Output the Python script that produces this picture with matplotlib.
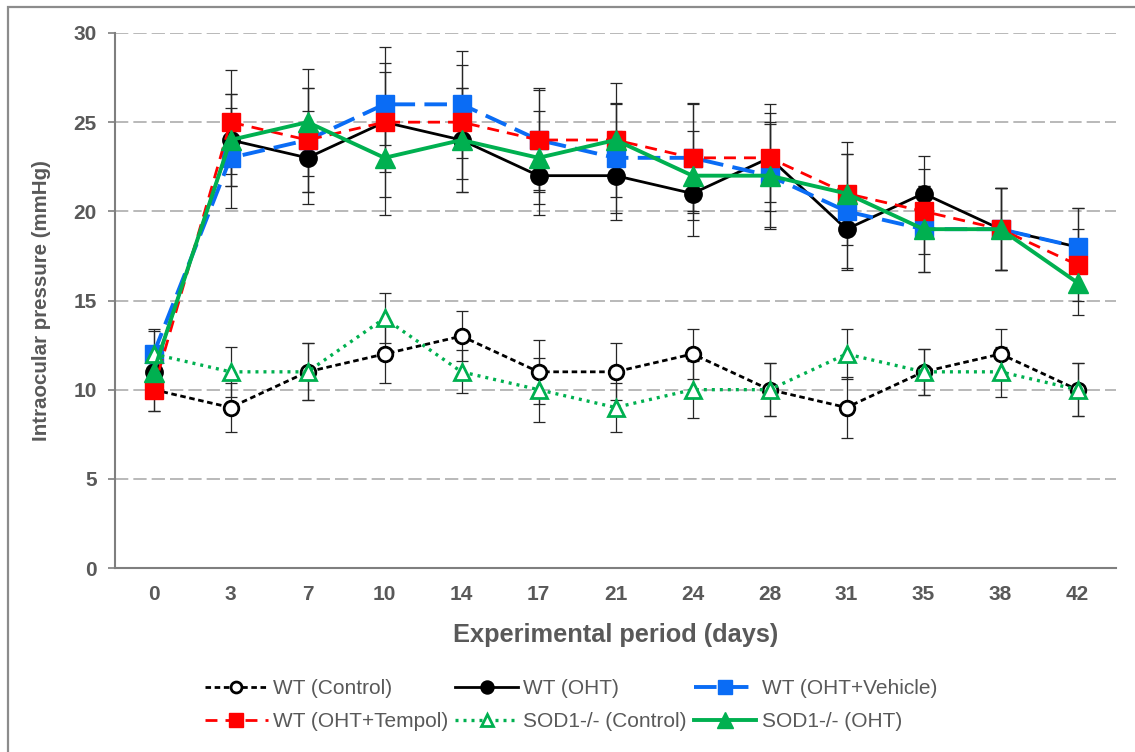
import matplotlib
matplotlib.use("Agg")
import matplotlib.pyplot as plt
from matplotlib.patches import Rectangle
import numpy as np

plt.rcParams['font.family'] = ['Liberation Sans', 'DejaVu Sans']

days = ["0", "3", "7", "10", "14", "17", "21", "24", "28", "31", "35", "38", "42"]

wt_control = [10, 9, 11, 12, 13, 11, 11, 12, 10, 9, 11, 12, 10]
wt_control_err = [1.2, 1.4, 1.6, 1.6, 1.4, 1.8, 1.6, 1.4, 1.5, 1.7, 1.3, 1.4, 1.5]

wt_oht = [11, 24, 23, 25, 24, 22, 22, 21, 23, 19, 21, 19, 18]
wt_oht_err = [1.4, 2.6, 2.6, 4.2, 2.9, 2.2, 2.5, 2.4, 3.0, 2.3, 2.1, 2.3, 2.2]

wt_vehicle = [12, 23, 24, 26, 26, 24, 23, 23, 22, 20, 19, 19, 18]
wt_vehicle_err = [1.3, 2.8, 2.9, 2.3, 3.0, 2.8, 3.1, 3.1, 3.0, 3.2, 2.4, 2.3, 2.2]

wt_tempol = [10, 25, 24, 25, 25, 24, 24, 23, 23, 21, 20, 19, 17]
wt_tempol_err = [1.2, 2.9, 2.9, 2.8, 3.2, 2.9, 3.2, 3.0, 2.5, 2.9, 2.4, 2.3, 2.0]

sod1_control = [12, 11, 11, 14, 11, 10, 9, 10, 10, 12, 11, 11, 10]
sod1_control_err = [1.4, 1.4, 1.6, 1.4, 1.2, 1.8, 1.4, 1.6, 1.5, 1.4, 1.3, 1.4, 1.5]

sod1_oht = [11, 24, 25, 23, 24, 23, 24, 22, 22, 21, 19, 19, 16]
sod1_oht_err = [1.3, 2.6, 3.0, 3.2, 2.9, 2.6, 2.0, 2.5, 2.9, 2.2, 2.4, 2.3, 1.8]

labels = ["WT (Control)", "WT (OHT)", "WT (OHT+Vehicle)",
          "WT (OHT+Tempol)", "SOD1-/- (Control)", "SOD1-/- (OHT)"]

series = [
    (wt_control, wt_control_err, dict(color='black', lw=2.0, ls=(0, (2.0, 1.3)),
                                      marker='o', ms=10.5, mfc='white', mec='black', mew=2.0)),
    (wt_oht, wt_oht_err, dict(color='black', lw=2.0, ls='-',
                              marker='o', ms=12.5, mfc='black', mec='black', mew=1)),
    (wt_vehicle, wt_vehicle_err, dict(color='#0A6CF5', lw=2.8, ls=(0, (5.8, 2.4)),
                                      marker='s', ms=12.5, mfc='#0A6CF5', mec='#0A6CF5', mew=1)),
    (wt_tempol, wt_tempol_err, dict(color='#FF0000', lw=2.0, ls=(0, (4.3, 2.9)),
                                    marker='s', ms=12.5, mfc='#FF0000', mec='#FF0000', mew=1)),
    (sod1_control, sod1_control_err, dict(color='#00B050', lw=2.4, ls=(0, (0.9, 1.5)),
                                          marker='^', ms=12, mfc='white', mec='#00B050', mew=2.0)),
    (sod1_oht, sod1_oht_err, dict(color='#00B050', lw=2.8, ls='-',
                                  marker='^', ms=15, mfc='#00B050', mec='#00B050', mew=1)),
]

fig = plt.figure(figsize=(11.35, 7.52), dpi=100)
ax = fig.add_axes([115 / 1135, 1 - 568 / 752, (1116 - 115) / 1135, (568 - 33) / 752])

# error bars first (behind lines and markers)
for vals, errs, st in series:
    ax.errorbar(days, vals, yerr=errs, fmt='none', ecolor='#262626', elinewidth=0.9,
                capsize=4.3, capthick=0.9, zorder=2)

handles = []
for (vals, errs, st), lab in zip(series, labels):
    h, = ax.plot(days, vals, label=lab, zorder=3, **st)
    handles.append(h)

ax.set_ylim(0, 30)
ax.set_xlim(-0.5, len(days) - 0.5)
ax.set_yticks([0, 5, 10, 15, 20, 25, 30])

ax.yaxis.grid(True, color='#A6A6A6', lw=1.1, ls=(0, (8.7, 3.3)))
ax.set_axisbelow(True)

for s in ['top', 'right']:
    ax.spines[s].set_visible(False)
for s in ['left', 'bottom']:
    ax.spines[s].set_color('#7F7F7F')
    ax.spines[s].set_linewidth(1.5)

ax.tick_params(axis='y', length=5, width=1.2, color='#7F7F7F', pad=8,
               labelsize=15, labelcolor='#595959')
ax.tick_params(axis='x', length=0, pad=12, labelsize=15, labelcolor='#595959')
for t in ax.get_xticklabels() + ax.get_yticklabels():
    t.set_fontweight('bold')

ax.set_ylabel("Intraocular pressure (mmHg)", fontsize=14.8, fontweight='bold',
              color='#595959', labelpad=16)
ax.set_xlabel("Experimental period (days)", fontsize=18.3, fontweight='bold',
              color='#595959', labelpad=14)

# legend filled row by row (matplotlib fills column-wise)
ncol = 3
nrow = 2
order = [r * ncol + c for c in range(ncol) for r in range(nrow)]
leg = fig.legend(handles=[handles[i] for i in order], labels=[labels[i] for i in order],
                 loc='center', bbox_to_anchor=(571 / 1135, 1 - 705 / 752), ncol=ncol,
                 frameon=False, fontsize=15, handlelength=3.0, handletextpad=0.25,
                 columnspacing=0.35, labelspacing=0.68, numpoints=1, markerscale=0.75)
for t in leg.get_texts():
    t.set_color('#595959')

# outer chart frame
fig.patches.append(Rectangle((8 / 1135, -0.5), 2, 1.5 - 7 / 752,
                             transform=fig.transFigure, fill=False,
                             edgecolor='#8C8C8C', lw=1.6, zorder=0))

fig.savefig("out.png", dpi=100)
